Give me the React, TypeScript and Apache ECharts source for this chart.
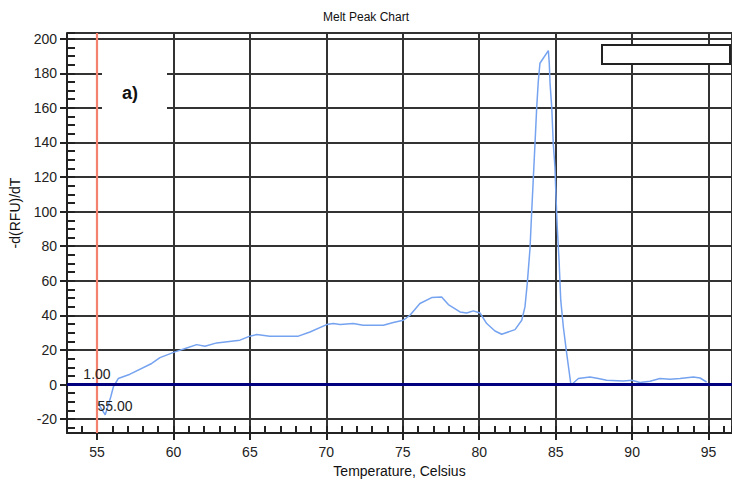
import React, { useEffect, useRef } from "react";
import * as echarts from "echarts";

// Temperature (°C) and -d(RFU)/dT values
const temps = [
  55.0, 55.08, 55.54, 55.9, 56.07, 56.39, 57.16, 58.58, 59.12, 60.1, 60.87, 61.52, 62.06, 62.83,
  64.35, 65.0, 65.45, 66.3, 68.17, 68.93, 70.02, 70.45, 70.9, 71.76, 72.4, 73.73, 74.38, 75.03,
  75.47, 76.12, 76.89, 77.54, 77.98, 78.74, 79.18, 79.61, 80.05, 80.49, 81.03, 81.47, 82.34,
  82.78, 82.99, 83.14, 83.32, 83.43, 83.53, 83.65, 83.76, 83.86, 83.97, 84.52, 84.58, 84.63,
  84.74, 84.84, 84.95, 85.02, 85.1, 85.22, 85.33, 85.5, 85.72, 86.0, 86.48, 87.24, 87.79, 88.33,
  89.42, 89.97, 90.51, 91.17, 91.82, 92.47, 93.13, 94.0, 94.44, 94.87,
];
const dRfu = [
  -8, -11, -17.5, -7.2, -1.4, 3.5, 6.0, 12.2, 15.6, 18.9, 21.2, 23.1, 22.2, 24.1,
  25.7, 28.0, 28.9, 28.0, 28.0, 30.4, 34.7, 35.3, 34.7, 35.3, 34.3, 34.3, 35.9, 37.2,
  40.1, 46.9, 50.3, 50.7, 46.3, 42.0, 41.4, 42.6, 41.4, 35.3, 31.0, 29.1, 31.8,
  37.2, 44.9, 58.4, 78.7, 99.9, 118, 140, 160.6, 175.1, 185.8, 193.1, 185.8, 174.2,
  160.6, 139.5, 126, 108.6, 91.2, 71.9, 48.8, 33.3, 17.9, -0.4, 3.5, 4.4, 3.5, 2.5,
  2.1, 2.5, 1.2, 1.9, 3.5, 3.1, 3.5, 4.4, 3.8, 1.5,
];

const chartTitle = "Melt Peak Chart";
const xAxisName = "Temperature, Celsius";
const yAxisName = "-d(RFU)/dT";
const panelLabel = "a)";
const thresholdValue = 0;
const thresholdLabel = "1.00";
const cursorTemp = 55;
const cursorLabel = "55.00";

const xRange = [53.04, 96.53];
const yRange = [-28, 203.3];

export default function App() {
  const ref = useRef<HTMLDivElement>(null);

  useEffect(() => {
    document.body.style.margin = "0";
    const chart = echarts.init(ref.current as HTMLDivElement, null, { renderer: "svg" });
    const font = "Liberation Sans, Arial, sans-serif";
    const dark = "#222";
    const gridColor = "#333";

    chart.setOption({
      animation: false,
      backgroundColor: "#ffffff",
      textStyle: { fontFamily: font },
      title: [
        {
          text: chartTitle,
          left: "center",
          top: 6,
          textStyle: { fontSize: 12, fontWeight: "normal", color: "#111", fontFamily: font },
        },
        {
          text: panelLabel,
          left: 102,
          top: 64,
          padding: [20, 29, 20, 20],
          backgroundColor: "#ffffff",
          textStyle: { fontSize: 18, fontWeight: "bold", color: "#111", fontFamily: font },
        },
      ],
      grid: { left: 67, right: 0, top: 33, bottom: 50, containLabel: false },
      xAxis: [
        {
          type: "value",
          position: "bottom",
          min: xRange[0],
          max: xRange[1],
          minInterval: 5,
          maxInterval: 5,
          splitNumber: 9,
          name: xAxisName,
          nameLocation: "middle",
          nameGap: 31,
          nameTextStyle: { fontSize: 14, color: "#111", fontFamily: font },
          axisLine: { show: true, onZero: false, lineStyle: { color: dark, width: 2 } },
          axisTick: { show: true, inside: false, length: 7, lineStyle: { color: dark, width: 2 } },
          axisLabel: { fontSize: 14, color: dark, margin: 12, showMinLabel: false, showMaxLabel: false },
          splitLine: { show: true, lineStyle: { color: gridColor, width: 2 } },
          minorTick: { show: false },
        },
        {
          type: "value",
          position: "bottom",
          min: xRange[0],
          max: xRange[1],
          minInterval: 1,
          maxInterval: 1,
          splitNumber: 44,
          axisLine: { show: false, onZero: false },
          axisLabel: { show: false },
          splitLine: { show: false },
          axisTick: { show: true, inside: true, length: 7, lineStyle: { color: dark, width: 2 } },
        },
      ],
      yAxis: [
        {
          type: "value",
          position: "left",
          min: yRange[0],
          max: yRange[1],
          minInterval: 20,
          maxInterval: 20,
          splitNumber: 11,
          name: yAxisName,
          nameLocation: "middle",
          nameGap: 45,
          nameRotate: 90,
          nameTextStyle: { fontSize: 14, color: "#111", fontFamily: font, padding: [0, 0, 0, 40] },
          axisLine: { show: true, onZero: false, lineStyle: { color: dark, width: 2 } },
          axisTick: { show: true, inside: false, length: 7, lineStyle: { color: dark, width: 2 } },
          axisLabel: { fontSize: 14, color: dark, margin: 10, showMinLabel: false, showMaxLabel: false },
          splitLine: { show: true, lineStyle: { color: gridColor, width: 2 } },
        },
        {
          type: "value",
          position: "left",
          min: yRange[0],
          max: yRange[1],
          minInterval: 5,
          maxInterval: 5,
          splitNumber: 46,
          axisLine: { show: false, onZero: false },
          axisLabel: { show: false },
          splitLine: { show: false },
          axisTick: { show: true, inside: true, length: 8, lineStyle: { color: dark, width: 2 } },
        },
      ],
      graphic: [
        {
          type: "rect",
          shape: { x: 602, y: 45, width: 128, height: 19 },
          style: { fill: "#ffffff", stroke: dark, lineWidth: 2 },
          z: 10,
        },
      ],
      series: [
        {
          type: "line",
          xAxisIndex: 0,
          yAxisIndex: 0,
          data: temps.map((t, i) => [t, dRfu[i]]),
          symbol: "none",
          showSymbol: false,
          lineStyle: { color: "#76a3f0", width: 1.5 },
          z: 3,
          markLine: {
            silent: true,
            symbol: "none",
            animation: false,
            label: { show: false },
            data: [
              { xAxis: cursorTemp, lineStyle: { color: "#f4806e", width: 2.2, type: "solid" } },
              { yAxis: thresholdValue, lineStyle: { color: "#00007f", width: 3, type: "solid" } },
            ],
          },
          markPoint: {
            silent: true,
            symbol: "circle",
            symbolSize: 1,
            itemStyle: { color: "rgba(0,0,0,0)" },
            data: [
              {
                coord: [cursorTemp, thresholdValue],
                label: {
                  show: true,
                  formatter: thresholdLabel,
                  position: "top",
                  distance: 3,
                  fontSize: 14,
                  color: dark,
                  fontFamily: font,
                },
              },
              {
                coord: [cursorTemp, thresholdValue],
                label: {
                  show: true,
                  formatter: cursorLabel,
                  position: "right",
                  distance: 0,
                  offset: [0, 21],
                  fontSize: 14,
                  color: dark,
                  fontFamily: font,
                },
              },
            ],
          },
        },
      ],
    });

    return () => {
      chart.dispose();
    };
  }, []);

  return (
    <div
      ref={ref}
      style={{ position: "fixed", left: 0, top: 0, width: 732, height: 483, background: "#fff" }}
    />
  );
}
